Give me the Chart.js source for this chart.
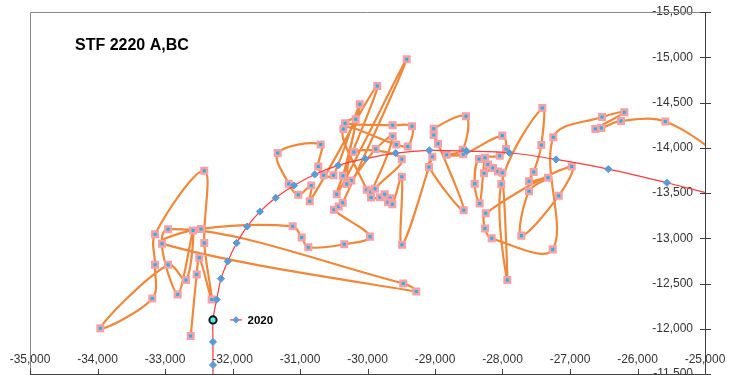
<!DOCTYPE html>
<html>
<head>
<meta charset="utf-8">
<script src="https://cdn.jsdelivr.net/npm/chart.js@4.4.1/dist/chart.umd.min.js"></script>
<style>
  html, body { margin: 0; padding: 0; background: #fff; }
  #wrap { width: 739px; height: 375px; }
</style>
</head>
<body>
<div id="wrap"><canvas id="stfChart" width="739" height="375"></canvas></div>
<script>
const chartTitle = "STF 2220 A,BC";
const markLabel = "2020";

const xTickValues = [-35000, -34000, -33000, -32000, -31000, -30000, -29000, -28000, -27000, -26000, -25000];
const xTickLabels = ["-35,000", "-34,000", "-33,000", "-32,000", "-31,000", "-30,000", "-29,000", "-28,000", "-27,000", "-26,000", "-25,000"];
const yTickValues = [-15500, -15000, -14500, -14000, -13500, -13000, -12500, -12000, -11500];
const yTickLabels = ["-15,500", "-15,000", "-14,500", "-14,000", "-13,500", "-13,000", "-12,500", "-12,000", "-11,500"];

// orange path (STF 2220 A,BC)
const orangeX = [
  -32619, -32530, -32492, -32308, -32418, -32418, -33148, -33148, -33188, -33958,
  -32955, -32689, -32585, -32812, -32955, -29470, -29277, -33044, -32467, -31108,
  -30975, -30877, -30344, -29963, -30496, -30427, -30367, -29419, -30456, -29855,
  -30856, -30833, -31025, -31167, -31330, -30693, -30729, -30649, -30504, -30115,
  -30363, -30175, -30333, -29627, -29341, -29404, -29573, -30358, -30012, -29951,
  -29627, -29878, -30240, -30308, -30203, -29492, -29889, -29948, -29815, -29745,
  -29664, -29696, -29632, -29492, -29489, -29040, -29089, -28575, -28955, -29019,
  -29019, -28541, -28590, -28827, -28581, -28003, -27948, -28041, -28348, -28412,
  -28338, -28259, -28215, -28274, -28141, -28067, -28003, -27929, -28018, -27410,
  -27425, -27538, -27607, -27326, -27607, -27721, -27167, -26975, -28249, -28259,
  -28160, -27256, -27247, -26526, -26195, -26625, -26536, -26244, -25588, -24555
];
const orangeY = [
  -11921, -12600, -12785, -12323, -12948, -13746, -13044, -12708, -12334, -12006,
  -12708, -12538, -13085, -12379, -13099, -12501, -12412, -12940, -13103, -13132,
  -13007, -12900, -12933, -13018, -13314, -13350, -13391, -14979, -13487, -14683,
  -13409, -13583, -13480, -13602, -13941, -14037, -13794, -13697, -13697, -14481,
  -13691, -14314, -14270, -14248, -14237, -14015, -14037, -14207, -13537, -13508,
  -14126, -13985, -13639, -13600, -13952, -13873, -13547, -13450, -13452, -13487,
  -13441, -13398, -13376, -13680, -12929, -13901, -13786, -13309, -14045, -14140,
  -14211, -14348, -13979, -13923, -13927, -14134, -13985, -13912, -13875, -13602,
  -13384, -13890, -13816, -13719, -13775, -13738, -13724, -12538, -13598, -14440,
  -14030, -13731, -13631, -13668, -13520, -13029, -13469, -13794, -13276, -13107,
  -12999, -12877, -14115, -14340, -14392, -14207, -14218, -14296, -14289, -13805
];

// red track with blue diamonds
const trackX = [
  -32289, -32289, -32289, -32289, -32234, -32170, -32071, -31938, -31785, -31593,
  -31360, -31089, -30782, -30433, -30033, -29582, -29084, -28530, -27899, -27207,
  -26433, -25563, -24481
];
const trackY = [
  -11290, -11600, -11855, -12098, -12323, -12553, -12744, -12948, -13129, -13295,
  -13447, -13583, -13705, -13805, -13879, -13941, -13971, -13963, -13945, -13871,
  -13764, -13613, -13406
];

// highlighted 2020 point
const markX = [-32289];
const markY = [-12098];

function toPoints(xs, ys) {
  return xs.map((x, i) => ({ x: x, y: ys[i] }));
}

const fontFamily = "'Liberation Sans', Arial, sans-serif";

const overlay = {
  id: "overlay",
  afterDraw(chart) {
    const ctx = chart.ctx;
    const area = chart.chartArea;
    const xs = chart.scales.x;
    const ys = chart.scales.y;
    ctx.save();

    // frame: top and left light, axes darker
    ctx.lineWidth = 1;
    ctx.strokeStyle = "#8a8a8a";
    ctx.beginPath();
    ctx.moveTo(area.left + 0.5, area.bottom);
    ctx.lineTo(area.left + 0.5, area.top + 0.5);
    ctx.lineTo(area.right, area.top + 0.5);
    ctx.stroke();

    ctx.strokeStyle = "#404040";
    ctx.beginPath();
    ctx.moveTo(area.left, area.bottom + 0.5);
    ctx.lineTo(area.right + 0.5, area.bottom + 0.5);
    ctx.moveTo(area.right + 0.5, area.top);
    ctx.lineTo(area.right + 0.5, area.bottom + 1);
    // y ticks cross the axis
    yTickValues.forEach(v => {
      const py = Math.round(ys.getPixelForValue(v)) + 0.5;
      ctx.moveTo(area.right - 5, py);
      ctx.lineTo(area.right + 6, py);
    });
    // x ticks point inward
    xTickValues.forEach(v => {
      const px = Math.round(xs.getPixelForValue(v)) + 0.5;
      ctx.moveTo(px, area.bottom - 5);
      ctx.lineTo(px, area.bottom + 1);
    });
    ctx.stroke();

    // x labels sit above the axis line
    ctx.fillStyle = "#333";
    ctx.font = "12px " + fontFamily;
    ctx.textAlign = "center";
    ctx.textBaseline = "middle";
    xTickValues.forEach((v, i) => {
      ctx.fillText(xTickLabels[i], xs.getPixelForValue(v), area.bottom - 14);
    });

    // title
    ctx.fillStyle = "#000";
    ctx.font = "bold 16px " + fontFamily;
    ctx.textAlign = "left";
    ctx.textBaseline = "alphabetic";
    ctx.fillText(chartTitle, 75, 50);

    // 2020 label with series key
    const pt = chart.getDatasetMeta(0).data[0];
    if (pt) {
      const cx = pt.x, cy = pt.y;
      ctx.strokeStyle = "#ff3a3a";
      ctx.lineWidth = 1.2;
      ctx.beginPath();
      ctx.moveTo(cx + 17, cy);
      ctx.lineTo(cx + 29, cy);
      ctx.stroke();
      ctx.fillStyle = "#5b9bd5";
      ctx.beginPath();
      ctx.moveTo(cx + 23, cy - 3.6);
      ctx.lineTo(cx + 26.6, cy);
      ctx.lineTo(cx + 23, cy + 3.6);
      ctx.lineTo(cx + 19.4, cy);
      ctx.closePath();
      ctx.fill();
      ctx.fillStyle = "#000";
      ctx.font = "bold 11.5px " + fontFamily;
      ctx.textBaseline = "middle";
      ctx.fillText(markLabel, cx + 34.5, cy + 0.5);
    }
    ctx.restore();
  }
};

new Chart(document.getElementById("stfChart").getContext("2d"), {
  type: "line",
  data: {
    datasets: [
      {
        label: markLabel,
        data: toPoints(markX, markY),
        showLine: false,
        pointStyle: "circle",
        pointRadius: 3.6,
        pointBackgroundColor: "#52eee6",
        pointBorderColor: "#111",
        pointBorderWidth: 2,
        order: 0
      },
      {
        label: "track",
        data: toPoints(trackX, trackY),
        borderColor: "#ff3a3a",
        borderWidth: 1.2,
        tension: 0.3,
        pointStyle: "rectRot",
        pointRadius: 3.6,
        pointBackgroundColor: "#5b9bd5",
        pointBorderColor: "#5b9bd5",
        pointBorderWidth: 1,
        order: 1
      },
      {
        label: chartTitle,
        data: toPoints(orangeX, orangeY),
        borderColor: "#f0883c",
        borderWidth: 2.2,
        tension: 0.35,
        pointStyle: "rect",
        pointRadius: 3.9,
        pointBackgroundColor: "#1fb4ea",
        pointBorderColor: "#f7a0a8",
        pointBorderWidth: 2.5,
        order: 2
      }
    ]
  },
  options: {
    responsive: false,
    animation: false,
    events: [],
    layout: { autoPadding: false, padding: { left: 30, top: 12, right: 0, bottom: 0 } },
    plugins: {
      legend: { display: false },
      tooltip: { enabled: false },
      title: { display: false }
    },
    scales: {
      x: {
        type: "linear",
        position: "bottom",
        min: -35000,
        max: -25000,
        afterBuildTicks: s => { s.ticks = xTickValues.map(v => ({ value: v })); },
        afterFit: s => { s.height = 1; s.paddingLeft = 0; s.paddingRight = 0; },
        ticks: { display: false },
        grid: { display: false, drawTicks: false },
        border: { display: false }
      },
      y: {
        type: "linear",
        position: "right",
        reverse: true,
        min: -15500,
        max: -11500,
        afterBuildTicks: s => { s.ticks = yTickValues.map(v => ({ value: v })); },
        afterFit: s => { s.width = 34; s.paddingTop = 0; s.paddingBottom = 0; },
        ticks: {
          mirror: true,
          padding: -12,
          autoSkip: false,
          color: "#333",
          font: { family: fontFamily, size: 12 },
          callback: (v, i) => yTickLabels[i]
        },
        grid: { display: false, drawTicks: false },
        border: { display: false }
      }
    }
  },
  plugins: [overlay]
});
</script>
</body>
</html>
